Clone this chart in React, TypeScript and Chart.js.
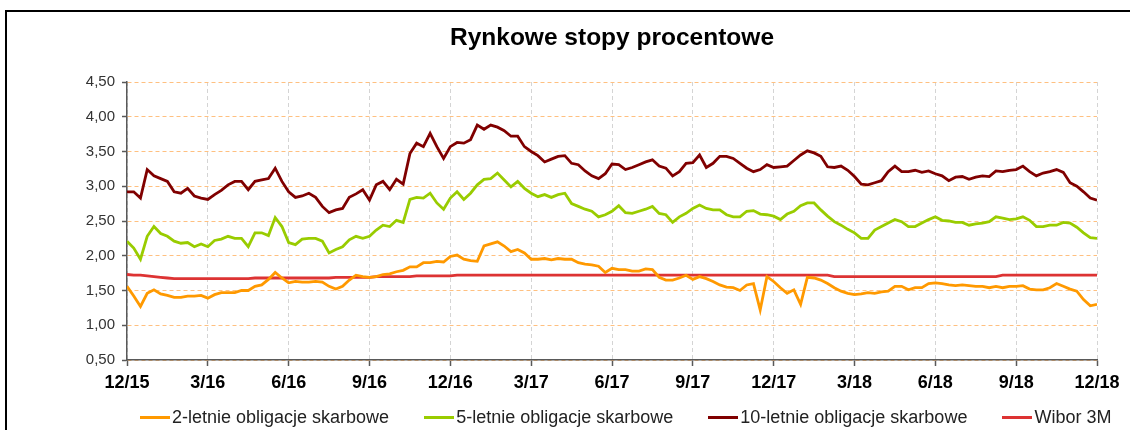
import React, { useEffect, useRef } from "react";
import { Chart, registerables } from "chart.js";

Chart.register(...registerables);

// Quarter tick labels (x axis, one every 12 samples)
const quarterLabels = ["12/15", "3/16", "6/16", "9/16", "12/16", "3/17", "6/17", "9/17", "12/17", "3/18", "6/18", "9/18", "12/18"];

const seriesNames = ["2-letnie obligacje skarbowe", "5-letnie obligacje skarbowe", "10-letnie obligacje skarbowe", "Wibor 3M"];
const seriesColors = ["#FF9900", "#99CC00", "#800000", "#DD3333"];

// Weekly samples, Dec 2015 - Dec 2018 (145 points)
const twoYear = [
  1.56, 1.42, 1.27, 1.46, 1.51, 1.45, 1.43, 1.40, 1.40, 1.42, 1.42, 1.43, 1.39,
  1.44, 1.47, 1.47, 1.47, 1.50, 1.50, 1.56, 1.58, 1.66, 1.76, 1.68, 1.61,
  1.63, 1.62, 1.62, 1.63, 1.62, 1.56, 1.52, 1.56, 1.65, 1.72, 1.70, 1.69,
  1.70, 1.73, 1.74, 1.77, 1.79, 1.84, 1.84, 1.90, 1.90, 1.92, 1.91, 1.99,
  2.01, 1.95, 1.93, 1.92, 2.14, 2.17, 2.20, 2.14, 2.06, 2.09, 2.04, 1.95,
  1.95, 1.96, 1.94, 1.96, 1.95, 1.95, 1.90, 1.88, 1.87, 1.85, 1.76, 1.82,
  1.80, 1.80, 1.78, 1.78, 1.81, 1.80, 1.69, 1.65, 1.65, 1.68, 1.72, 1.66,
  1.70, 1.67, 1.63, 1.58, 1.55, 1.54, 1.50, 1.58, 1.60, 1.22, 1.70, 1.63,
  1.54, 1.46, 1.51, 1.30, 1.69, 1.68, 1.65, 1.60, 1.54, 1.49, 1.46, 1.44,
  1.45, 1.47, 1.46, 1.48, 1.49, 1.56, 1.56, 1.51, 1.54, 1.54, 1.60, 1.61,
  1.60, 1.58, 1.57, 1.58, 1.57, 1.56, 1.56, 1.54, 1.56, 1.54, 1.56, 1.56,
  1.57, 1.52, 1.51, 1.51, 1.54, 1.60, 1.56, 1.52, 1.49, 1.37, 1.28, 1.30,
];

const fiveYear = [
  2.21, 2.11, 1.95, 2.28, 2.42, 2.32, 2.28, 2.21, 2.18, 2.19, 2.13, 2.17, 2.13,
  2.22, 2.24, 2.28, 2.25, 2.25, 2.13, 2.33, 2.33, 2.29, 2.55, 2.42, 2.19,
  2.16, 2.24, 2.25, 2.25, 2.21, 2.04, 2.09, 2.13, 2.23, 2.28, 2.25, 2.28,
  2.37, 2.44, 2.42, 2.51, 2.48, 2.81, 2.84, 2.83, 2.90, 2.76, 2.67, 2.83,
  2.92, 2.81, 2.90, 3.02, 3.10, 3.11, 3.19, 3.09, 2.99, 3.07, 2.97, 2.90,
  2.85, 2.88, 2.84, 2.88, 2.90, 2.75, 2.71, 2.67, 2.64, 2.56, 2.59, 2.64,
  2.72, 2.62, 2.61, 2.64, 2.67, 2.71, 2.61, 2.59, 2.48, 2.56, 2.61, 2.68,
  2.73, 2.68, 2.66, 2.66, 2.59, 2.56, 2.56, 2.64, 2.65, 2.60, 2.59, 2.57,
  2.52, 2.60, 2.64, 2.72, 2.76, 2.76, 2.66, 2.57, 2.49, 2.44, 2.38, 2.33,
  2.25, 2.25, 2.37, 2.42, 2.47, 2.52, 2.49, 2.42, 2.42, 2.47, 2.52, 2.56,
  2.51, 2.50, 2.48, 2.48, 2.44, 2.46, 2.47, 2.49, 2.56, 2.54, 2.52, 2.53,
  2.56, 2.51, 2.42, 2.42, 2.44, 2.44, 2.48, 2.47, 2.41, 2.33, 2.26, 2.25,
];

const tenYear = [
  2.92, 2.92, 2.83, 3.24, 3.15, 3.11, 3.07, 2.92, 2.90, 2.97, 2.86, 2.83, 2.81,
  2.88, 2.94, 3.02, 3.07, 3.07, 2.95, 3.07, 3.09, 3.11, 3.26, 3.07, 2.92,
  2.84, 2.86, 2.90, 2.84, 2.71, 2.62, 2.66, 2.68, 2.84, 2.89, 2.95, 2.80,
  3.02, 3.07, 2.95, 3.10, 3.03, 3.47, 3.62, 3.57, 3.76, 3.57, 3.40, 3.57,
  3.63, 3.62, 3.67, 3.88, 3.82, 3.88, 3.85, 3.80, 3.72, 3.72, 3.57, 3.50,
  3.44, 3.35, 3.39, 3.43, 3.44, 3.33, 3.31, 3.22, 3.15, 3.11, 3.18, 3.32,
  3.31, 3.24, 3.27, 3.31, 3.35, 3.38, 3.29, 3.26, 3.15, 3.21, 3.33, 3.34,
  3.45, 3.27, 3.33, 3.43, 3.43, 3.40, 3.33, 3.26, 3.21, 3.24, 3.31, 3.27,
  3.28, 3.29, 3.37, 3.45, 3.51, 3.48, 3.43, 3.28, 3.27, 3.29, 3.23, 3.14,
  3.03, 3.02, 3.05, 3.08, 3.21, 3.29, 3.21, 3.21, 3.23, 3.20, 3.22, 3.18,
  3.15, 3.08, 3.13, 3.14, 3.10, 3.13, 3.15, 3.14, 3.22, 3.21, 3.23, 3.24,
  3.29, 3.21, 3.15, 3.19, 3.21, 3.24, 3.20, 3.05, 3.00, 2.92, 2.83, 2.80,
];

const wibor3m = [
  1.73, 1.72, 1.72, 1.71, 1.70, 1.69, 1.68, 1.67, 1.67, 1.67, 1.67, 1.67, 1.67,
  1.67, 1.67, 1.67, 1.67, 1.67, 1.67, 1.68, 1.68, 1.68, 1.68, 1.68, 1.68,
  1.68, 1.68, 1.68, 1.68, 1.68, 1.68, 1.69, 1.69, 1.69, 1.69, 1.69, 1.69,
  1.70, 1.70, 1.70, 1.70, 1.70, 1.70, 1.71, 1.71, 1.71, 1.71, 1.71, 1.71,
  1.72, 1.72, 1.72, 1.72, 1.72, 1.72, 1.72, 1.72, 1.72, 1.72, 1.72, 1.72,
  1.72, 1.72, 1.72, 1.72, 1.72, 1.72, 1.72, 1.72, 1.72, 1.72, 1.72, 1.72,
  1.72, 1.72, 1.72, 1.72, 1.72, 1.72, 1.72, 1.72, 1.72, 1.72, 1.72, 1.72,
  1.72, 1.72, 1.72, 1.72, 1.72, 1.72, 1.72, 1.72, 1.72, 1.72, 1.72, 1.72,
  1.72, 1.72, 1.72, 1.72, 1.72, 1.72, 1.72, 1.72, 1.70, 1.70, 1.70, 1.70,
  1.70, 1.70, 1.70, 1.70, 1.70, 1.70, 1.70, 1.70, 1.70, 1.70, 1.70, 1.70,
  1.70, 1.70, 1.70, 1.70, 1.70, 1.70, 1.70, 1.70, 1.70, 1.72, 1.72, 1.72,
  1.72, 1.72, 1.72, 1.72, 1.72, 1.72, 1.72, 1.72, 1.72, 1.72, 1.72, 1.72,
];

const allSeries = [twoYear, fiveYear, tenYear, wibor3m];

const FONT = "'Liberation Sans', Arial, sans-serif";

export default function App() {
  const canvasRef = useRef<HTMLCanvasElement | null>(null);

  useEffect(() => {
    const canvas = canvasRef.current;
    if (!canvas) return;
    const chart = new Chart(canvas, {
      type: "line",
      data: {
        datasets: allSeries.map((vals, k) => ({
          label: seriesNames[k],
          data: vals.map((y, i) => ({ x: i, y })),
          borderColor: seriesColors[k],
          backgroundColor: seriesColors[k],
          borderWidth: 2.8,
          pointRadius: 0,
          tension: 0,
          fill: false,
        })),
      },
      options: {
        responsive: false,
        animation: false,
        devicePixelRatio: 1,
        layout: { padding: { left: 77, right: 33, top: 0, bottom: 0 } },
        plugins: {
          legend: { display: false },
          tooltip: { enabled: false },
          title: {
            display: true,
            fullSize: false,
            text: "Rynkowe stopy procentowe",
            color: "#000",
            font: { family: FONT, size: 24.5, weight: "bold" },
            padding: { top: 24, bottom: 28.6 },
          },
        },
        scales: {
          x: {
            type: "linear",
            min: 0,
            max: 144,
            afterFit: (s: any) => {
              s.height = 70;
            },
            ticks: {
              stepSize: 12,
              autoSkip: false,
              maxRotation: 0,
              minRotation: 0,
              padding: 6,
              color: "#000",
              font: { family: FONT, size: 18, weight: "bold" },
              callback: (v: any) => quarterLabels[Math.round(Number(v) / 12)] ?? "",
            },
            grid: {
              color: "#D4D4D4",
              lineWidth: 1,
              tickColor: "#595959",
              tickLength: 6,
              tickWidth: 1.5,
              tickBorderDash: [],
            },
            border: { color: "#595959", width: 1.5, dash: [4, 3] },
          },
          y: {
            min: 0.5,
            max: 4.5,
            afterFit: (s: any) => {
              s.width = 50;
            },
            ticks: {
              stepSize: 0.5,
              padding: 7,
              color: "#333",
              font: { family: FONT, size: 15 },
              callback: (v: any) => Number(v).toFixed(2).replace(".", ","),
            },
            grid: {
              color: "#FFC080",
              lineWidth: 1,
              tickColor: "#595959",
              tickLength: 5,
              tickWidth: 1.5,
              tickBorderDash: [],
            },
            border: { color: "#595959", width: 1.5, dash: [4, 3] },
          },
        },
      },
    });
    return () => chart.destroy();
  }, []);

  return (
    <div style={{ position: "absolute", left: 0, top: 0, width: 1130, height: 430, overflow: "hidden", background: "#fff" }}>
      <div
        style={{
          position: "absolute",
          left: 5,
          top: 10,
          width: 1140,
          height: 440,
          borderTop: "2px solid #000",
          borderLeft: "2px solid #000",
          boxSizing: "border-box",
        }}
      />
      <canvas ref={canvasRef} width={1130} height={430} style={{ position: "absolute", left: 0, top: 0, width: 1130, height: 430 }} />
      <div
        style={{
          position: "absolute",
          left: 140,
          top: 406,
          display: "flex",
          gap: 35,
          fontFamily: FONT,
          fontSize: 18,
          lineHeight: "22px",
          color: "#222",
          whiteSpace: "nowrap",
        }}
      >
        {seriesNames.map((name, k) => (
          <div key={name} style={{ display: "flex", alignItems: "center" }}>
            <span style={{ display: "inline-block", width: 30, height: 3, background: seriesColors[k], marginRight: 2 }} />
            <span>{name}</span>
          </div>
        ))}
      </div>
    </div>
  );
}
